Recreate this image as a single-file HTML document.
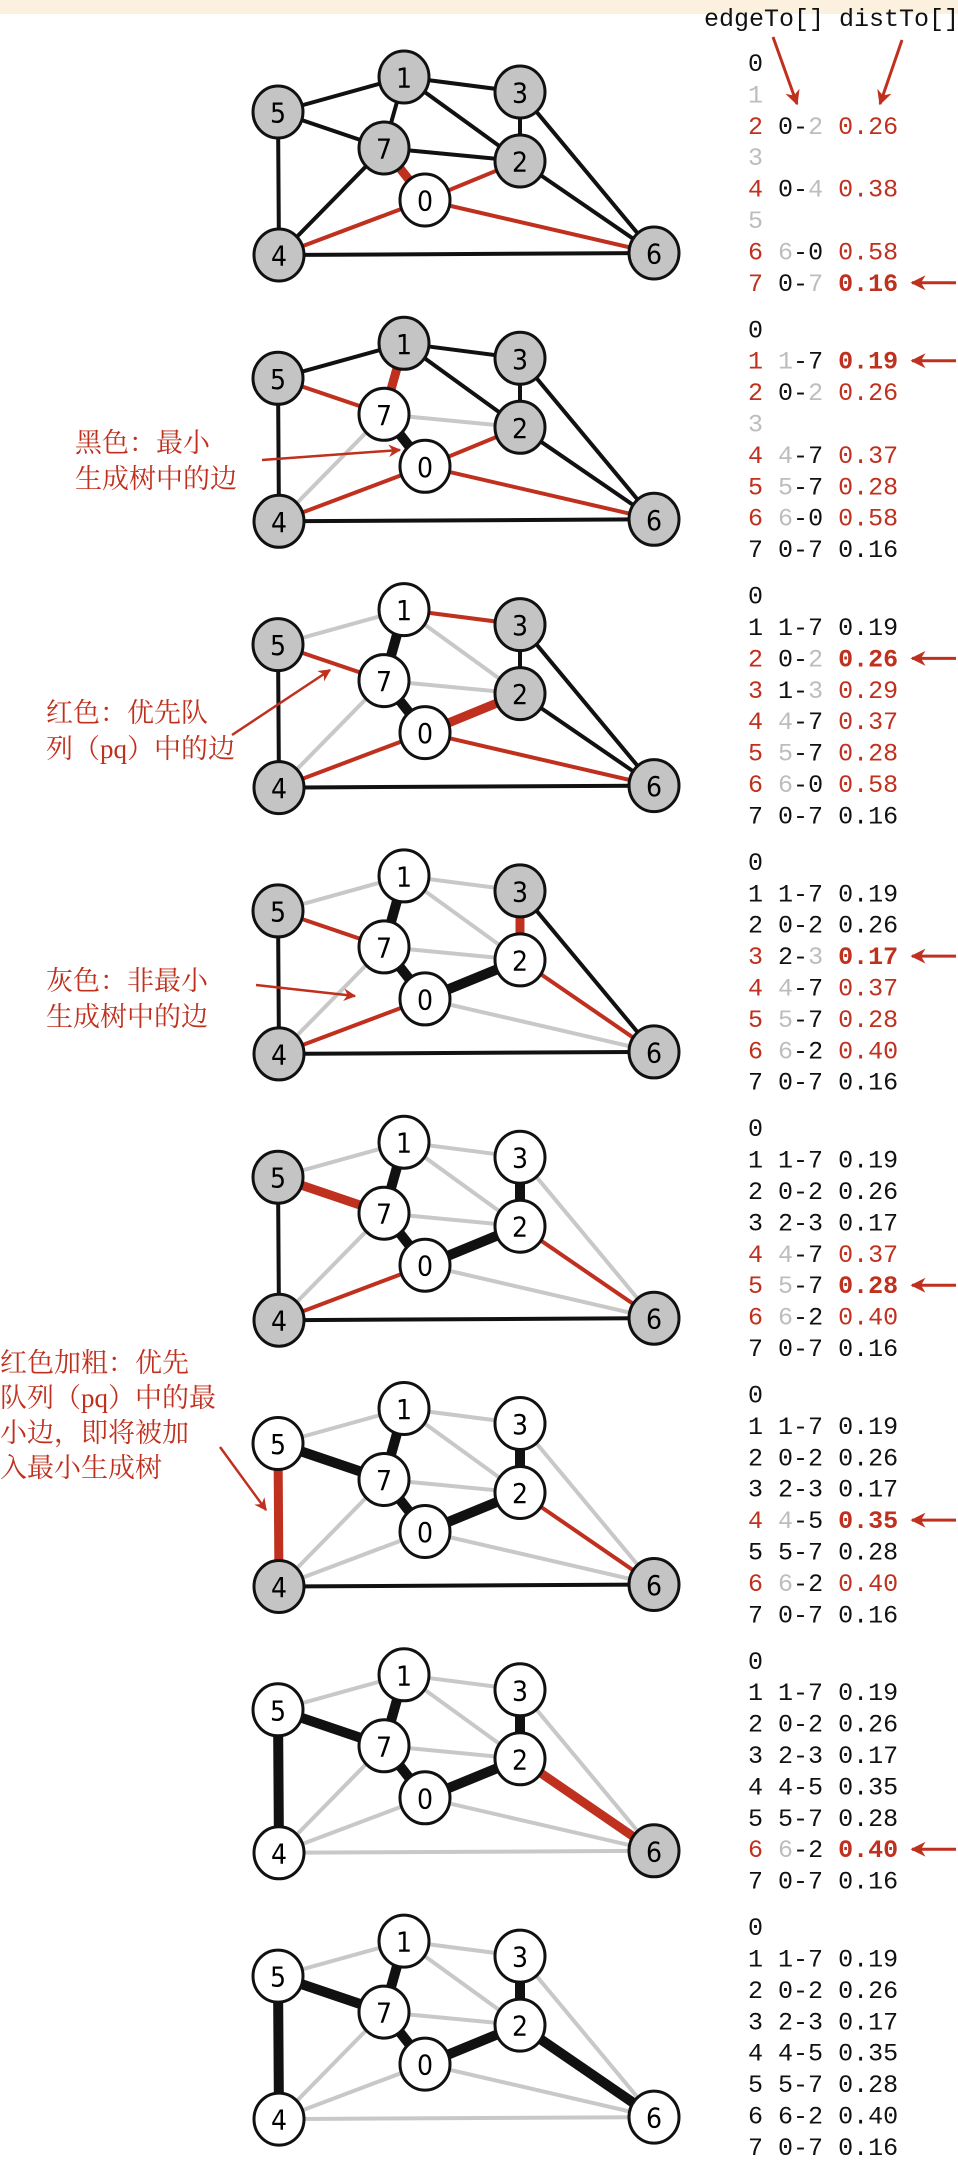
<!DOCTYPE html>
<html><head><meta charset="utf-8"><style>
html,body{margin:0;padding:0;background:#fff;}
body{width:958px;height:2174px;position:relative;overflow:hidden;}
#band{position:absolute;left:0;top:0;width:958px;height:14px;background:#fcf1de;}
svg{position:absolute;left:0;top:0;}
.cn{font-family:"Liberation Serif","Noto Serif CJK SC",serif;font-size:27px;fill:#c0301e;}
.mono{font-family:"Liberation Mono","DejaVu Sans Mono",monospace;font-size:25px;}
.nl{font-family:"DejaVu Sans Condensed","Liberation Sans",sans-serif;font-size:28px;text-anchor:middle;dominant-baseline:central;}
</style></head><body>
<div id="band"></div>
<svg id="s" width="958" height="2174"></svg>
<script>
const RED="#c0301e", GRAYE="#c8c8c8", GRAYN="#c4c4c4", GRAYT="#bdbdbd";
const nodes={5:[278,112],1:[404,77],3:[520,92],7:[384,148],2:[520,161],0:[425,200],4:[279,255],6:[654,253]};
const edges=["4-5","4-7","5-7","0-7","1-5","0-4","2-3","1-7","0-2","1-2","1-3","2-7","2-6","3-6","0-6","4-6"];
const weights={"4-5":0.35,"4-7":0.37,"5-7":0.28,"0-7":0.16,"1-5":0.32,"0-4":0.38,"2-3":0.17,"1-7":0.19,"0-2":0.26,"1-2":0.36,"1-3":0.29,"2-7":0.34,"2-6":0.40,"3-6":0.52,"0-6":0.58,"4-6":0.93};
const treeV=[[0],[0,7],[0,7,1],[0,7,1,2],[0,7,1,2,3],[0,7,1,2,3,5],[0,7,1,2,3,5,4],[0,7,1,2,3,5,4,6]];
const mstE=[[],["0-7"],["0-7","1-7"],["0-7","1-7","0-2"],["0-7","1-7","0-2","2-3"],["0-7","1-7","0-2","2-3","5-7"],["0-7","1-7","0-2","2-3","5-7","4-5"],["0-7","1-7","0-2","2-3","5-7","4-5","2-6"]];
const redE=[["0-2","0-4","0-6"],["0-2","0-4","5-7","0-6"],["1-3","0-4","5-7","0-6"],["0-4","5-7","2-6"],["0-4","2-6"],["2-6"],[],[]];
const selE=["0-7","1-7","0-2","2-3","5-7","4-5","2-6",null];
const grayE=[[],["4-7","2-7"],["4-7","2-7","1-5","1-2"],["4-7","2-7","1-5","1-2","1-3","0-6"],["4-7","2-7","1-5","1-2","1-3","0-6","3-6"],["4-7","2-7","1-5","1-2","1-3","0-6","3-6","0-4"],["4-7","2-7","1-5","1-2","1-3","0-6","3-6","0-4","4-6"],["4-7","2-7","1-5","1-2","1-3","0-6","3-6","0-4","4-6"]];
const rowStat=[
 "bnrnrnrs","bsrnrrrb","bbsrrrrb","bbbsrrrb","bbbbrsrb","bbbbsbrb","bbbbbbsb","bbbbbbbb"];
const edgeTo=[
 ["","","0-2","","0-4","","6-0","0-7"],
 ["","1-7","0-2","","4-7","5-7","6-0","0-7"],
 ["","1-7","0-2","1-3","4-7","5-7","6-0","0-7"],
 ["","1-7","0-2","2-3","4-7","5-7","6-2","0-7"],
 ["","1-7","0-2","2-3","4-7","5-7","6-2","0-7"],
 ["","1-7","0-2","2-3","4-5","5-7","6-2","0-7"],
 ["","1-7","0-2","2-3","4-5","5-7","6-2","0-7"],
 ["","1-7","0-2","2-3","4-5","5-7","6-2","0-7"]];
const distTo=[
 ["","","0.26","","0.38","","0.58","0.16"],
 ["","0.19","0.26","","0.37","0.28","0.58","0.16"],
 ["","0.19","0.26","0.29","0.37","0.28","0.58","0.16"],
 ["","0.19","0.26","0.17","0.37","0.28","0.40","0.16"],
 ["","0.19","0.26","0.17","0.37","0.28","0.40","0.16"],
 ["","0.19","0.26","0.17","0.35","0.28","0.40","0.16"],
 ["","0.19","0.26","0.17","0.35","0.28","0.40","0.16"],
 ["","0.19","0.26","0.17","0.35","0.28","0.40","0.16"]];
const PITCH=266.3, ROW0=62, ROWH=31.4;
const s=document.getElementById('s');
const NS="http://www.w3.org/2000/svg";
function mk(tag,attrs,parent){const e=document.createElementNS(NS,tag);for(const k in attrs)e.setAttribute(k,attrs[k]);(parent||s).appendChild(e);return e;}
const defs=mk('defs',{});
const m=mk('marker',{id:'ah',viewBox:'0 0 10 10',refX:'9',refY:'5',markerWidth:'5',markerHeight:'5',orient:'auto-start-reverse'},defs);
mk('path',{d:'M0,0 L10,5 L0,10 L3,5 z',fill:RED},m);

for(let p=0;p<8;p++){
  const oy=p*PITCH;
  const g=mk('g',{});
  
  
  const order=[];
  edges.forEach(e=>{
    let kind='thin';
    if(mstE[p].includes(e))kind='mst';
    else if(selE[p]===e)kind='sel';
    else if(redE[p].includes(e))kind='red';
    else if(grayE[p].includes(e))kind='gray';
    order.push([e,kind]);
  });
  const rank={gray:0,thin:1,red:2,sel:3,mst:4};
  order.sort((a,b)=>rank[a[1]]-rank[b[1]]);
  order.forEach(([e,kind])=>{
    const [a,b]=e.split('-');
    const A=nodes[a],B=nodes[b];
    const st={gray:[GRAYE,4],thin:['#111',4],red:[RED,4],sel:[RED,9],mst:['#111',10]}[kind];
    const l=mk('line',{x1:A[0],y1:A[1]+oy,x2:B[0],y2:B[1]+oy,stroke:st[0],'stroke-width':st[1]},g);
    
    
  });
  Object.keys(nodes).forEach(v=>{
    const [x,y]=nodes[v];
    const inT=treeV[p].includes(+v);
    const c=mk('ellipse',{cx:x,cy:y+oy,rx:25,ry:26,fill:inT?'#fff':GRAYN,stroke:'#111','stroke-width':3},g);
    
    
    const t=mk('text',{x:x,y:y+oy+1,class:'nl'},g);
    t.textContent=v;
  });
  for(let r=0;r<8;r++){
    const y=oy+ROW0+r*ROWH+9;
    const st=rowStat[p][r];
    const t=mk('text',{x:748,y:y,class:'mono'},g);
    
    
    const numCol = r===0?'#111':(st==='n'?GRAYT:(st==='b'?'#111':RED));
    const sp=(txt,fill,bold)=>{const e=mk('tspan',{fill:fill},t);if(bold)e.setAttribute('font-weight','bold');e.textContent=txt;};
    sp(String(r),numCol);
    if(r===0||st==='n')continue;
    const et=edgeTo[p][r];
    sp(' ','#111');
    if(st==='b'){sp(et,'#111');}
    else{
      const [a,b]=et.split('-');
      sp(a,a==String(r)?GRAYT:'#111');sp('-','#111');sp(b,b==String(r)?GRAYT:'#111');
    }
    sp(' ','#111');
    sp(distTo[p][r],st==='b'?'#111':RED,st==='s');
    if(st==='s'){
      const ar=mk('line',{x1:956,y1:y-8,x2:912,y2:y-8,stroke:RED,'stroke-width':3,'marker-end':'url(#ah)'},g);
      
      
    }
  }
}
const h=mk('text',{x:704,y:26,class:'mono',fill:'#111'});


h.textContent='edgeTo[] distTo[]';
const a1=mk('line',{x1:773,y1:37,x2:797,y2:104,stroke:RED,'stroke-width':3,'marker-end':'url(#ah)'});

const a2=mk('line',{x1:902,y1:40,x2:880,y2:104,stroke:RED,'stroke-width':3,'marker-end':'url(#ah)'});

function note(lines,x,y0,lh,name,ax1,ay1,ax2,ay2){
  const t=mk('text',{x:x,y:y0,class:'cn'});
  
  
  lines.forEach((L,i)=>{const ts=mk('tspan',{x:x,dy:i?lh:0},t);ts.textContent=L;});
  const a=mk('line',{x1:ax1,y1:ay1,x2:ax2,y2:ay2,stroke:RED,'stroke-width':2.5,'marker-end':'url(#ah)'});
  
  
}
note(['黑色：最小','生成树中的边'],75,452,36,'note-black',262,460,400,450);
note(['红色：优先队','列（pq）中的边'],46,722,36,'note-red',232,735,330,670);
note(['灰色：非最小','生成树中的边'],46,990,36,'note-gray',256,985,355,996);
note(['红色加粗：优先','队列（pq）中的最','小边，即将被加','入最小生成树'],0,1372,35,'note-red-bold',220,1447,266,1510);
</script>
</body></html>
